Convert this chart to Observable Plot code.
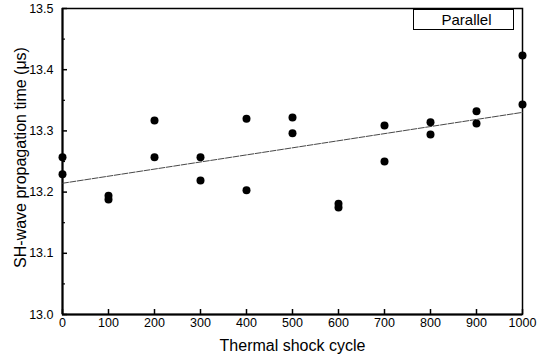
<!DOCTYPE html>
<html>
<head>
<meta charset="utf-8">
<script src="https://cdn.jsdelivr.net/npm/d3@7"></script>
<script src="https://cdn.jsdelivr.net/npm/@observablehq/plot@0.6"></script>
<style>
  html, body { margin: 0; padding: 0; background: #fff; }
  #wrap { position: relative; width: 545px; height: 363px; font-family: "Liberation Sans", Arial, sans-serif; }
  #legend { position: absolute; left: 413px; top: 9px; width: 101px; height: 21px; border: 1.2px solid #000;
            box-sizing: border-box; font-size: 15px; line-height: 19px; text-align: center; color: #000; padding-left: 6px; }
</style>
</head>
<body>
<div id="wrap"></div>
<script>
const cycles = [0, 0, 100, 100, 200, 200, 300, 300, 400, 400, 500, 500, 600, 600, 700, 700, 800, 800, 900, 900, 1000, 1000];
const times  = [13.257, 13.229, 13.194, 13.188, 13.317, 13.257, 13.257, 13.219, 13.320, 13.203, 13.322, 13.296,
                13.181, 13.175, 13.309, 13.250, 13.314, 13.294, 13.332, 13.312, 13.423, 13.343];
const xTicks = [0, 100, 200, 300, 400, 500, 600, 700, 800, 900, 1000];
const yTicks = [13.0, 13.1, 13.2, 13.3, 13.4, 13.5];
const yMinor = [13.05, 13.15, 13.25, 13.35, 13.45];
const legendLabel = "Parallel";
const xTitle = "Thermal shock cycle";
const yTitle = "SH-wave propagation time (μs)";

const data = cycles.map((c, i) => ({cycle: c, time: times[i]}));

const chart = Plot.plot({
  width: 545,
  height: 363,
  marginLeft: 62,
  marginRight: 23,
  marginTop: 8,
  marginBottom: 49,
  style: {fontFamily: "Liberation Sans, Arial, sans-serif", fontSize: "12px", color: "#000", background: "#fff"},
  x: {domain: [0, 1000]},
  y: {domain: [13.0, 13.5]},
  marks: [
    Plot.axisX({ticks: xTicks, tickSize: 0, tickPadding: 4, tickFormat: d => String(d), label: null, fontSize: 12.5}),
    Plot.axisX({ticks: xTicks, tickSize: -5, tickFormat: () => "", label: null, strokeWidth: 1.5}),
    Plot.axisY({ticks: yTicks, tickSize: 0, tickPadding: 9, tickFormat: d => d.toFixed(1), label: null, fontSize: 12.5}),
    Plot.axisY({ticks: yTicks, tickSize: -5, tickFormat: () => "", label: null, strokeWidth: 1.5}),
    Plot.axisY({ticks: yMinor, tickSize: -3, tickFormat: () => "", label: null, strokeWidth: 1.2}),
    Plot.frame({stroke: "#000", strokeWidth: 1.5}),
    Plot.ruleX([0], {stroke: "#000", strokeWidth: 2}),
    Plot.ruleY([13.0], {stroke: "#000", strokeWidth: 2}),
    Plot.linearRegressionY(data, {x: "cycle", y: "time", ci: 0, stroke: "#333", strokeWidth: 0.9, strokeDasharray: "6,1.5"}),
    Plot.dot(data, {x: "cycle", y: "time", r: 4, fill: "#000", stroke: "none"}),
    Plot.text([xTitle], {frameAnchor: "bottom", dy: 36, fontSize: 16, fill: "#000"}),
    Plot.text([yTitle], {frameAnchor: "left", dx: -42, dy: -4, rotate: -90, textAnchor: "middle", fontSize: 16, fill: "#000"})
  ]
});
const wrap = document.getElementById("wrap");
wrap.appendChild(chart);
const leg = document.createElement("div");
leg.id = "legend";
leg.textContent = legendLabel;
wrap.appendChild(leg);
</script>
</body>
</html>
